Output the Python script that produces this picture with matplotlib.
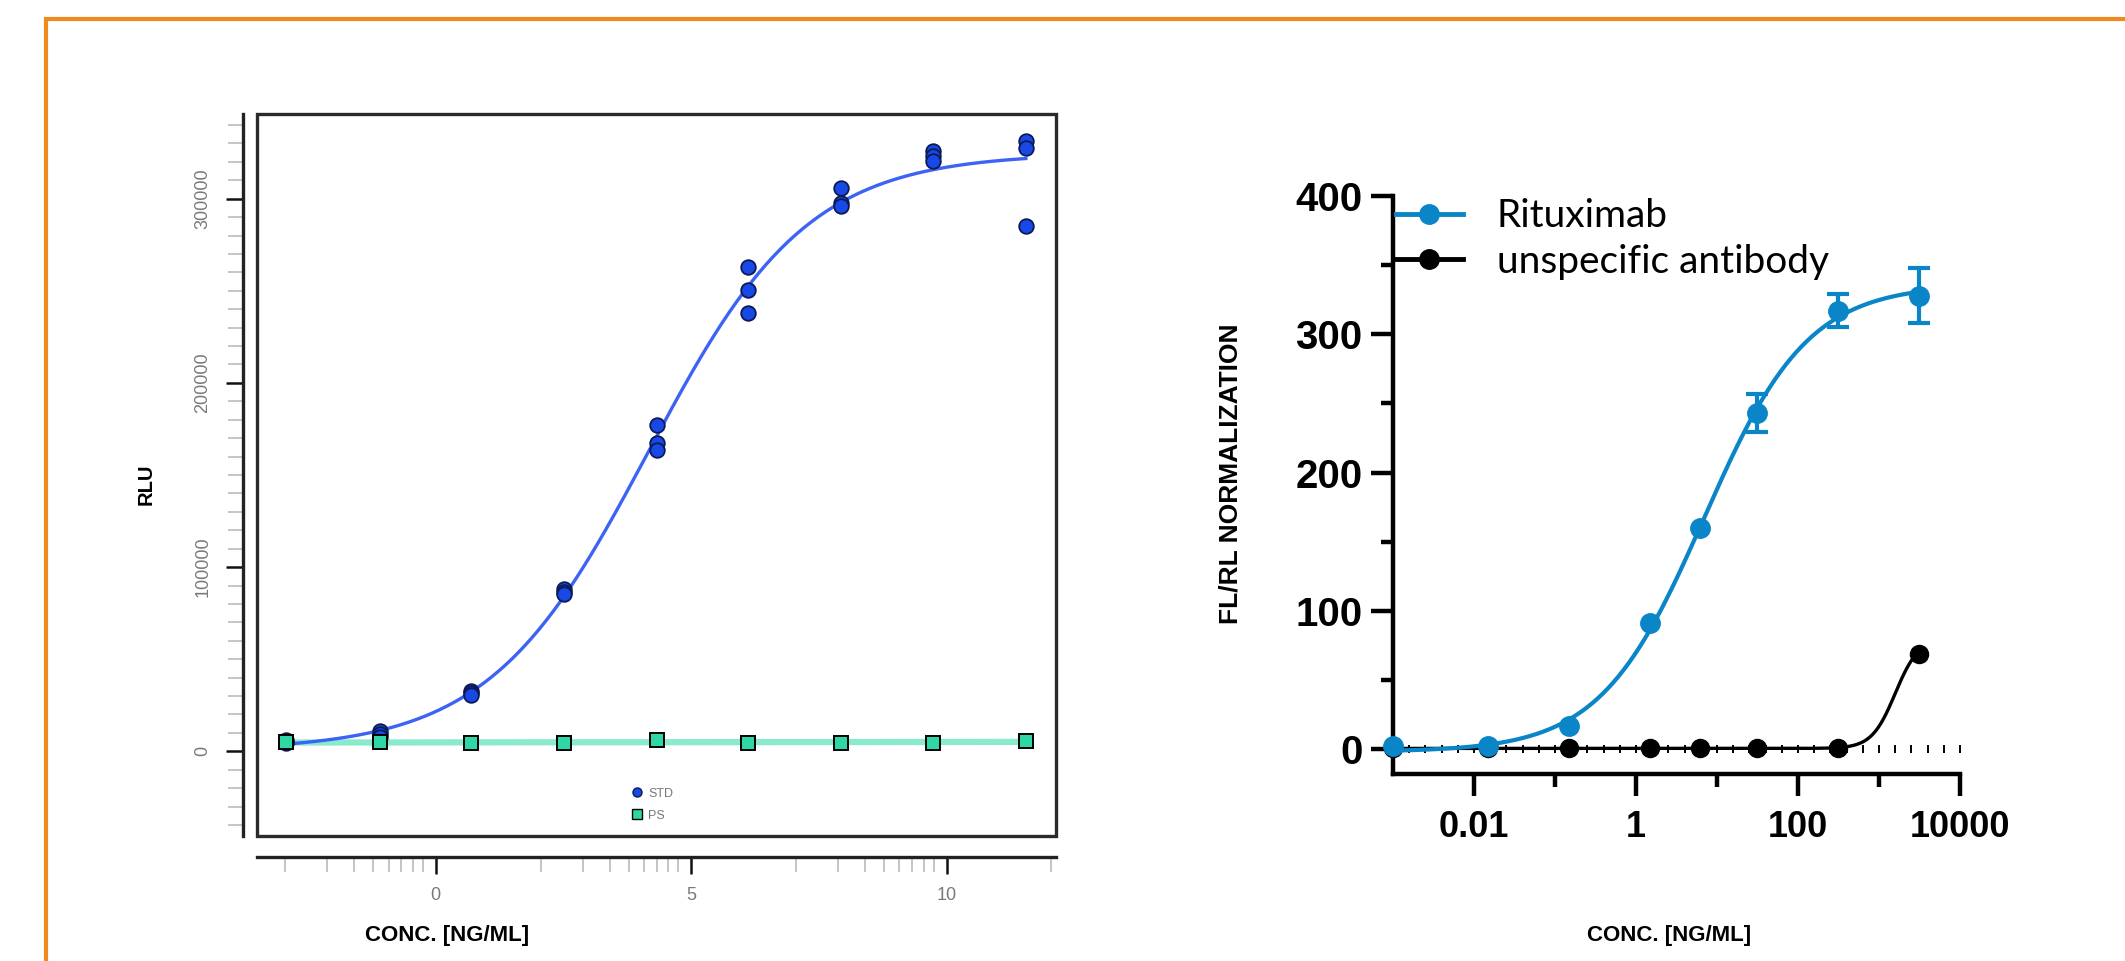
import matplotlib
matplotlib.use("Agg")
import matplotlib.pyplot as plt
import numpy as np
from matplotlib.patches import Rectangle
from matplotlib.lines import Line2D
from matplotlib.ticker import FixedLocator, NullFormatter

W, H, DPI = 2125, 961, 100

# ---------------- data ----------------
# left panel: luminescence standard curve, x already log-transformed
std_x = [-2.93, -1.09, 0.69, 2.51, 4.32, 6.11, 7.93, 9.73, 11.55]
std_rep1 = [6000, 11000, 32600, 88000, 177200, 263200, 305800, 325700, 331100]
std_rep2 = [5000, 9500, 31500, 86500, 167400, 250500, 297500, 323000, 327500]
std_rep3 = [4500, 8000, 30500, 85500, 163600, 238200, 296000, 320300, 285300]
ps_y = [4800, 4800, 4600, 4700, 6000, 4600, 4500, 4700, 5600]
left_xticks = [0, 5, 10]
left_yticks = [0, 100000, 200000, 300000]

# right panel: reporter assay, FL/RL normalisation
conc = [0.001, 0.015, 0.15, 1.5, 6.2, 31, 310, 3100]
ritux_y = [2, 2, 17, 91, 160, 243, 317, 328]
ritux_err = [0, 0, 0, 0, 0, 14, 12, 20]
unspec_y = [0.5, 0.5, 0.8, 0.5, 0.5, 0.5, 1.0, 69]
# fitted 4PL for the unspecific antibody (bottom, top, logEC50, hill)
unspec_fit = (0.5, 80, 3.2, 3.0)
right_xticks = [0.01, 1, 100, 10000]
right_xlabels = ["0.01", "1", "100", "10000"]
right_yticks = [0, 100, 200, 300, 400]

ORANGE = "#EE8A1E"
STD_BLUE = "#1848E6"
CURVE_BLUE = "#3D63F5"
PS_GREEN = "#2ED7A5"
PS_LINE = "#8AEACD"
RITUX = "#0A86C8"

NARROW = ["Liberation Sans Narrow", "Liberation Sans", "DejaVu Sans"]
BOLD = ["Liberation Sans", "DejaVu Sans"]


def fit_logistic(x, y, c_grid, h_grid):
    """grid search on centre/slope, linear least squares for bottom/top"""
    x = np.asarray(x, float)
    y = np.asarray(y, float)
    best = None
    for c in c_grid:
        for h in h_grid:
            s = 1.0 / (1.0 + np.exp(-h * (x - c)))
            A = np.column_stack([np.ones_like(s), s])
            coef, *_ = np.linalg.lstsq(A, y, rcond=None)
            r = np.sum((A @ coef - y) ** 2)
            if best is None or r < best[0]:
                best = (r, coef[0], coef[1], c, h)
    _, b, t, c, h = best
    return lambda xx: b + t / (1.0 + np.exp(-h * (np.asarray(xx) - c)))


def px_rect(x0, y0, x1, y1):
    return [x0 / W, 1 - y1 / H, (x1 - x0) / W, (y1 - y0) / H]


fig = plt.figure(figsize=(W / DPI, H / DPI), dpi=DPI)

# orange frame (runs off the right and bottom edges)
fig.add_artist(Rectangle((46 / W, -0.2), 2.0, 1.2 - 19 / H, transform=fig.transFigure,
                         fill=False, ec=ORANGE, lw=3.0))

# ================= left panel =================
ax1 = fig.add_axes(px_rect(257, 114, 1056, 836))
ax1.set_xlim(-3.5, 12.14)
ax1.set_ylim(-46000, 346000)

all_x = np.repeat(std_x, 3)
all_y = np.ravel(np.column_stack([std_rep1, std_rep2, std_rep3]))
std_curve = fit_logistic(all_x, all_y, np.linspace(3, 5.5, 126), np.linspace(0.3, 1.2, 91))
xx = np.linspace(std_x[0], std_x[-1], 300)

ps_coef = np.polyfit(std_x, ps_y, 1)
ax1.plot(xx, np.polyval(ps_coef, xx), color=PS_LINE, lw=4.5, zorder=2)
ax1.plot(xx, std_curve(xx), color=CURVE_BLUE, lw=2.4, zorder=3)
for rep in (std_rep1, std_rep2, std_rep3):
    ax1.plot(std_x, rep, "o", ms=10.5, mfc=STD_BLUE, mec="#0b1a55", mew=1.3, zorder=4)
ax1.plot(std_x, ps_y, "s", ms=9.5, mfc=PS_GREEN, mec="black", mew=1.4, zorder=5)

leg_h = [Line2D([], [], ls="none", marker="o", ms=6.5, mfc=STD_BLUE, mec="#0b1a55"),
         Line2D([], [], ls="none", marker="s", ms=6.5, mfc=PS_GREEN, mec="black")]
ax1.legend(leg_h, ["STD", "PS"], loc="lower left", bbox_to_anchor=(0.469, 0.02),
           frameon=False, prop={"family": NARROW, "size": 9}, labelcolor="#777777",
           handletextpad=0.5, labelspacing=0.8, borderpad=0, borderaxespad=0,
           handlelength=0.8)

for s in ("top", "right"):
    ax1.spines[s].set_visible(False)
ax1.spines["left"].set_position(("outward", 10))
ax1.spines["bottom"].set_position(("outward", 15))
for s in ("left", "bottom"):
    ax1.spines[s].set_linewidth(2.4)
    ax1.spines[s].set_color("#222222")
ax1.add_patch(Rectangle((0, 0), 1, 1, transform=ax1.transAxes, fill=False,
                        ec="#2a2a2a", lw=2.4, clip_on=False, zorder=6))

minor_frac = [0.41, 0.575, 0.68, 0.755, 0.815, 0.865, 0.91, 0.95]
x_minor = [5 * d + 5 * f for d in (-1, 0, 1, 2) for f in minor_frac]
x_minor = [v for v in x_minor if -3.5 <= v <= 12.14]
ax1.xaxis.set_major_locator(FixedLocator(left_xticks))
ax1.xaxis.set_minor_locator(FixedLocator(x_minor))
ax1.xaxis.set_minor_formatter(NullFormatter())
ax1.set_xticklabels([str(v) for v in left_xticks], family=NARROW)

ax1.yaxis.set_major_locator(FixedLocator(left_yticks))
ax1.yaxis.set_minor_locator(FixedLocator(np.arange(-40000, 345000, 10000)))
ax1.yaxis.set_minor_formatter(NullFormatter())
ax1.set_yticklabels([str(v) for v in left_yticks], rotation=90, va="center", family=NARROW)

ax1.tick_params(which="major", length=12, width=1.8, color="#111111",
                labelcolor="#7a7a7a", labelsize=13)
ax1.tick_params(which="minor", length=11, width=1.2, color="#bbbbbb")
ax1.tick_params(axis="x", which="major", pad=10)
ax1.tick_params(axis="y", which="major", pad=11)

fig.text(146 / W, 1 - 484 / H, "RLU", rotation=90, ha="center", va="center",
         fontsize=14.5, fontweight="bold", family=NARROW)
fig.text(447 / W, 1 - 935 / H, "CONC. [NG/ML]", ha="center", va="center",
         fontsize=16, fontweight="bold", family=NARROW)

# ================= right panel =================
ax2 = fig.add_axes(px_rect(1393, 196, 1960, 774))
ax2.set_xscale("log")
ax2.set_xlim(1e-3, 1e4)
ax2.set_ylim(-18, 400)

lx = np.log10(conc)
rit_curve = fit_logistic(lx, ritux_y, np.linspace(0, 1.5, 151), np.linspace(1.0, 3.5, 126))
lxx = np.linspace(lx[0], lx[-1], 400)
b, t, c, h = unspec_fit
uns_curve = b + (t - b) / (1 + 10 ** (h * (c - lxx)))

# short marks along the zero line, every 0.2 decade
zero_marks = 10 ** np.arange(-3, 4.01, 0.2)
ax2.plot(zero_marks, np.zeros_like(zero_marks), ls="none", marker="|", ms=5.5, mew=1.4,
         color="black", zorder=2, clip_on=False)

ax2.plot(10 ** lxx, uns_curve, color="black", lw=2.4, zorder=3, clip_on=False)
ax2.plot(conc, unspec_y, "o", ms=13, color="black", zorder=4, clip_on=False)
ax2.plot(10 ** lxx, rit_curve(lxx), color=RITUX, lw=3, zorder=5, clip_on=False)
has_err = [i for i, e in enumerate(ritux_err) if e > 0]
ax2.errorbar([conc[i] for i in has_err], [ritux_y[i] for i in has_err],
             yerr=[ritux_err[i] for i in has_err], fmt="none", ecolor=RITUX,
             elinewidth=3, capsize=8, capthick=3, zorder=6, clip_on=False)
ax2.plot(conc, ritux_y, "o", ms=14, color=RITUX, zorder=7, clip_on=False)

leg_h2 = [Line2D([], [], color=RITUX, lw=3.5, marker="o", ms=14),
          Line2D([], [], color="black", lw=3.5, marker="o", ms=14)]
ax2.legend(leg_h2, ["Rituximab", "unspecific antibody"], loc="upper left",
           bbox_to_anchor=(0.005, 0.996), frameon=False, prop={"family": "Lato", "size": 28},
           handlelength=1.72, handletextpad=0.87, labelspacing=0.25,
           borderpad=0, borderaxespad=0)

for s in ("top", "right"):
    ax2.spines[s].set_visible(False)
for s in ("left", "bottom"):
    ax2.spines[s].set_linewidth(3.2)

ax2.xaxis.set_major_locator(FixedLocator(right_xticks))
ax2.xaxis.set_minor_locator(FixedLocator([0.1, 10, 1000]))
ax2.xaxis.set_minor_formatter(NullFormatter())
ax2.set_xticklabels(right_xlabels)
ax2.yaxis.set_major_locator(FixedLocator(right_yticks))
ax2.yaxis.set_minor_locator(FixedLocator([50, 150, 250, 350]))
ax2.yaxis.set_minor_formatter(NullFormatter())
ax2.set_yticklabels([str(v) for v in right_yticks])
ax2.tick_params(which="major", length=16, width=3.2, pad=6)
ax2.tick_params(which="minor", length=9, width=3.2)
ax2.tick_params(axis="x", which="major", labelsize=26, pad=10)
ax2.tick_params(axis="y", which="major", labelsize=29)
for lab in ax2.get_xticklabels() + ax2.get_yticklabels():
    lab.set_fontweight("bold")
    lab.set_family(BOLD)

fig.text(1230 / W, 1 - 474 / H, "FL/RL NORMALIZATION", rotation=90, ha="center",
         va="center", fontsize=19, fontweight="bold", family=BOLD)
fig.text(1669 / W, 1 - 935 / H, "CONC. [NG/ML]", ha="center", va="center",
         fontsize=16, fontweight="bold", family=NARROW)

fig.savefig("out.png", dpi=DPI)
